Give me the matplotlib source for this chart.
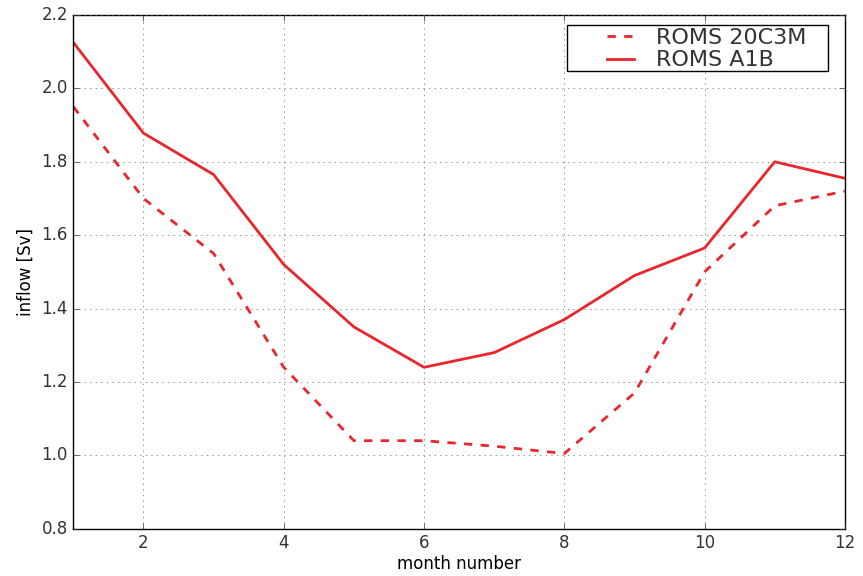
import numpy as np
import matplotlib
matplotlib.use('Agg')
import matplotlib.pyplot as plt
from matplotlib.patches import Rectangle

plt.style.use('classic')
plt.rcParams['font.family'] = ['DejaVu Sans']

# monthly inflow values
months = np.arange(1, 13)
inflow_20c3m = [1.95, 1.70, 1.55, 1.24, 1.04, 1.04, 1.025, 1.005, 1.17, 1.50, 1.68, 1.72]
inflow_a1b = [2.125, 1.878, 1.765, 1.52, 1.35, 1.24, 1.28, 1.37, 1.49, 1.565, 1.80, 1.755]

fig = plt.figure(figsize=(8.63, 5.76), dpi=100, facecolor='white')
ax = fig.add_axes([0.085, 0.082, 0.894, 0.892])

ax.plot(months, inflow_20c3m, color='#e8262b', lw=2, ls='--', label='ROMS 20C3M')
ax.plot(months, inflow_a1b, color='#e8262b', lw=2, ls='-', label='ROMS A1B')

ax.set_xlim(1, 12)
ax.set_ylim(0.8, 2.2)
ax.set_xticks([2, 4, 6, 8, 10, 12])
ax.set_yticks(np.arange(0.8, 2.21, 0.2))
ax.grid(True, ls=':', color='#666666')
ax.set_xlabel('month number', fontsize=12, labelpad=2)
ax.set_ylabel('inflow [Sv]', fontsize=12)
ax.tick_params(labelsize=12, colors='#333333')

# legend without frame, then a wider box drawn around it (extra side padding)
leg = ax.legend(loc='upper right', bbox_to_anchor=(0.9505, 0.975), borderaxespad=0,
                fontsize=16, frameon=False, handlelength=1.8, handletextpad=0.7,
                borderpad=0, labelspacing=0.12)
for t in leg.get_texts():
    t.set_color('#333333')
leg.set_zorder(5)

fig.canvas.draw()
bb = leg.get_window_extent()
box = Rectangle((bb.x0 - 34, bb.y0 - 1), bb.width + 55, bb.height + 4,
                transform=None, facecolor='white', edgecolor='black', lw=1,
                zorder=4.5, clip_on=False)
ax.add_patch(box)

fig.savefig('out.png', dpi=100, facecolor='white')
